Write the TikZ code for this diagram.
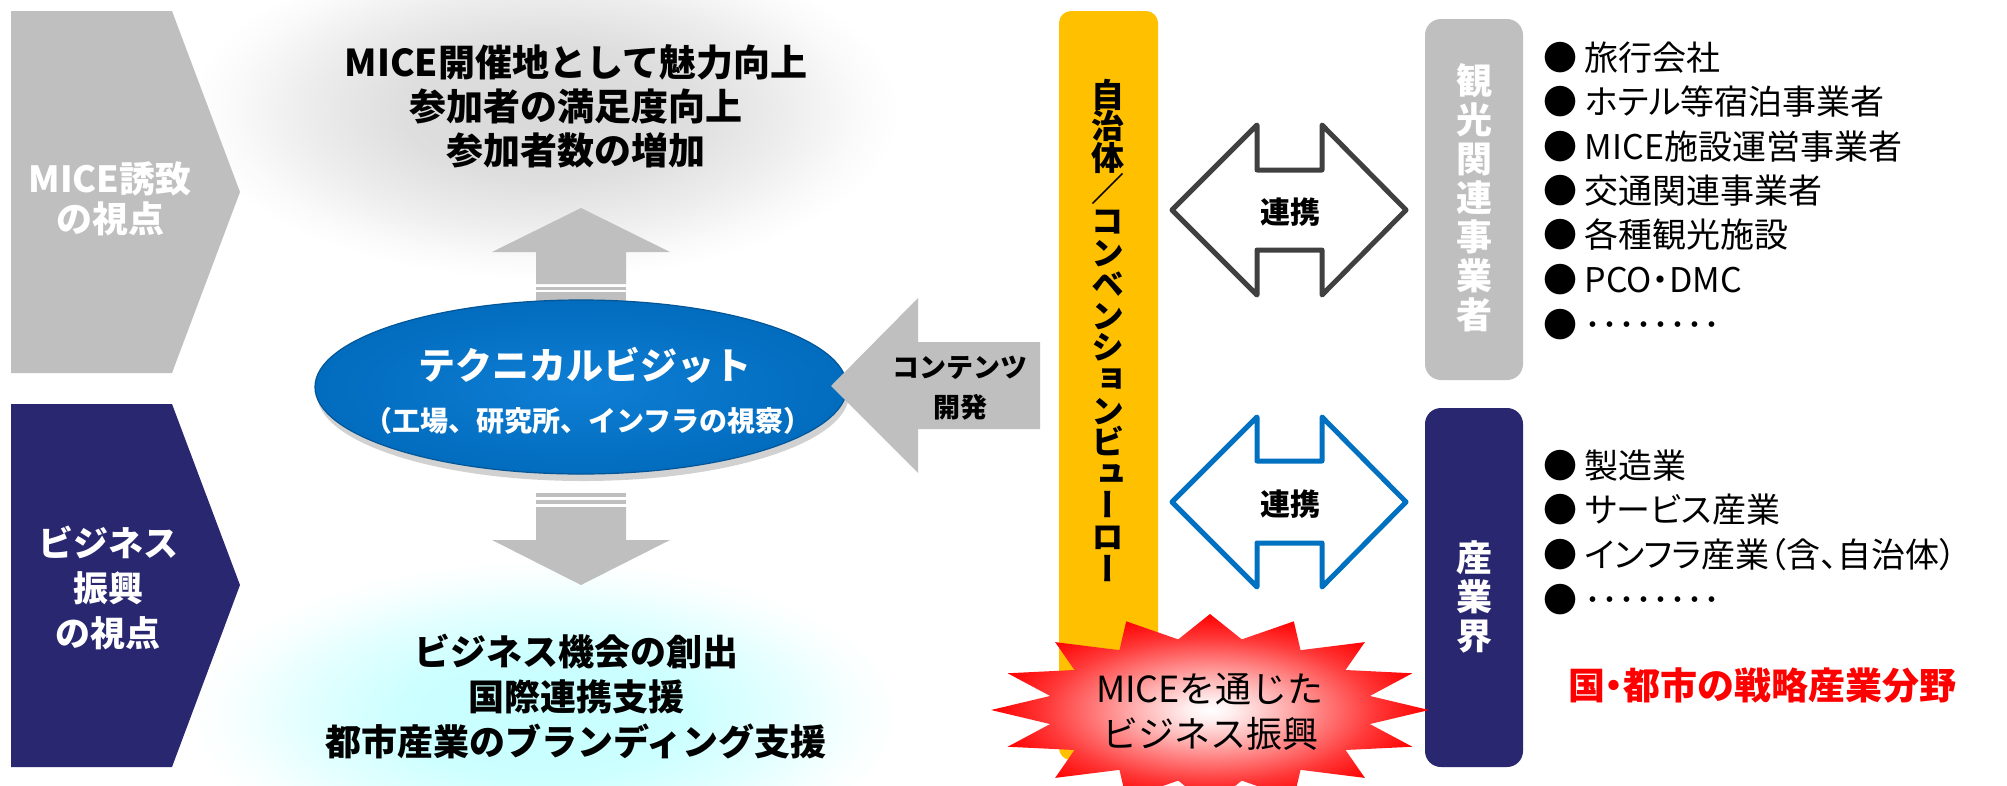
\documentclass[tikz,border=0pt]{standalone}
\usepackage{fontspec}
\setmainfont{Noto Sans CJK JP}
\newfontfamily\vjp{Noto Sans CJK JP}[RawFeature=+vert]
\newfontfamily\pjp{Noto Sans CJK JP}[RawFeature=+palt]
\definecolor{cgray}{RGB}{191,191,191}
\definecolor{cnavy}{RGB}{41,39,112}
\definecolor{cyellow}{RGB}{255,192,0}
\definecolor{cblue}{RGB}{0,112,192}
\definecolor{cdark}{RGB}{64,64,64}
\definecolor{ellin}{RGB}{14,126,212}
\definecolor{ellout}{RGB}{2,108,190}
\pgfdeclareradialshading{burst}{\pgfpoint{0bp}{0bp}}{color(0bp)=(white); color(2.5bp)=(red!6); color(8.75bp)=(red!32); color(13.75bp)=(red!55); color(18.75bp)=(red!78); color(25bp)=(red); color(50bp)=(red)}
\pgfdeclareradialshading{glowgray}{\pgfpoint{0bp}{0bp}}{color(0bp)=(black!15); color(10bp)=(black!13); color(17bp)=(black!7); color(22bp)=(black!2); color(25bp)=(white); color(50bp)=(white)}
\pgfdeclareradialshading{glowcyan}{\pgfpoint{0bp}{0bp}}{color(0bp)=(cyan!22); color(10bp)=(cyan!20); color(17bp)=(cyan!11); color(22bp)=(cyan!3); color(25bp)=(white); color(50bp)=(white)}
\newcommand\fsz[2]{\fontsize{#1}{#2}\selectfont}
\tikzset{
  txt/.style={inner sep=0pt, align=center},
  chevtext/.style={txt, text=white, font=\bfseries\fsz{36}{40}},
  bigtext/.style={txt, text=black, font=\bfseries\fsz{37}{44}},
  lowtext/.style={txt, text=black, font=\bfseries\fsz{36}{45}},
  listitem/.style={inner sep=0pt, anchor=west, text=black, font=\pjp\fsz{34}{34}},
  boxtext/.style={txt, text=white, font=\bfseries\fsz{36}{39}},
  linktext/.style={txt, text=black, font=\bfseries\fsz{30}{30}},
  dblarrow/.style={line width=5pt, line join=round, fill=white},
}
\begin{document}
\begin{tikzpicture}[x=1pt,y=-1pt]
\useasboundingbox (0,0) rectangle (2007,785);
\clip (0,0) rectangle (2007,785);
\fill[white] (0,0) rectangle (2007,785);

% glows
\shade[shading=glowgray] (190,-60) rectangle (900,280);
\shade[shading=glowcyan] (190,560) rectangle (900,870);

% chevrons
\fill[cgray] (11,11) -- (172,11) -- (240,192) -- (172,373) -- (11,373) -- cycle;
\node[chevtext] (c1) at (110,199) {MICE誘致\\の視点};
\fill[cnavy] (11,404) -- (172,404) -- (240,585) -- (172,767) -- (11,767) -- cycle;
\node[chevtext, font=\bfseries\fsz{35}{45}] (c2) at (108,588) {ビジネス\\振興\\の視点};

% top text
\node[bigtext] (top) at (576,106) {MICE開催地として魅力向上\\参加者の満足度向上\\参加者数の増加};

% up arrow
\fill[cgray] (581,208) -- (670,252) -- (626,252) -- (626,284) -- (536,284) -- (536,252) -- (492,252) -- cycle;
\fill[cgray] (536,287) rectangle (626,290);
\fill[cgray] (536,292) rectangle (626,302);

% down arrow
\fill[cgray] (536,493) rectangle (626,497);
\fill[cgray] (536,500) rectangle (626,504);
\fill[cgray] (536,507) -- (626,507) -- (626,540) -- (670,540) -- (581,585) -- (492,540) -- (536,540) -- cycle;

% bottom text
\node[lowtext] (low) at (576,697) {ビジネス機会の創出\\国際連携支援\\都市産業のブランディング支援};

% ellipse
\fill[black, opacity=0.18] (583,394) ellipse [x radius=266pt, y radius=87pt];
\shade[inner color=ellin, outer color=ellout] (581,387) ellipse [x radius=266pt, y radius=87pt];
\draw[ellout!80!black, line width=1.2pt] (581,387) ellipse [x radius=266pt, y radius=87pt];
\node[txt, text=white, font=\bfseries\fsz{37}{37}] (e1) at (585,365) {テクニカルビジット};
\node[txt, text=white, font=\bfseries\fsz{28}{28}] (e2) at (588,421) {（工場、研究所、インフラの視察）};

% left arrow
\fill[cgray] (831,386) -- (918,298) -- (918,342) -- (1040,342) -- (1040,429) -- (918,429) -- (918,473) -- cycle;
\node[txt, font=\bfseries\fsz{27}{40}] (cd) at (960,388) {コンテンツ\\開発};

% yellow bar
\fill[cyellow, rounded corners=12pt] (1059,11) rectangle (1158,760);
\node[txt, font=\vjp\bfseries\fsz{33}{31.6}] (vb) at (1108,330) {自\\治\\体\\／\\コ\\ン\\ベ\\ン\\シ\\ョ\\ン\\ビ\\ュ\\ー\\ロ\\ー};

% double arrows
\draw[dblarrow, draw=cdark, shift={(1289,210)}] (-117,0) -- (-32,-85) -- (-32,-40) -- (33,-40) -- (33,-85) -- (117,0) -- (33,85) -- (33,40) -- (-32,40) -- (-32,85) -- cycle;
\node[linktext] (k1) at (1290,212) {連携};
\draw[dblarrow, draw=cblue, shift={(1289,502)}] (-117,0) -- (-32,-85) -- (-32,-41) -- (33,-41) -- (33,-85) -- (117,0) -- (33,85) -- (33,41) -- (-32,41) -- (-32,85) -- cycle;
\node[linktext] (k2) at (1290,504) {連携};

% boxes
\fill[cgray, rounded corners=16pt] (1425,19) rectangle (1523,380);
\node[boxtext] (b1) at (1474,198) {観\\光\\関\\連\\事\\業\\者};
\fill[cnavy, rounded corners=16pt] (1425,408) rectangle (1523,767);
\node[boxtext] (b2) at (1474,597) {産\\業\\界};

% starburst
\shade[shading=burst] plot[samples at={0,...,31}, variable=\k] ({1210+(iseven(\k) ? 219 : 163)*cos(\k*11.25)}, {710-(iseven(\k) ? 96 : 72)*sin(\k*11.25)}) -- cycle;
\node[txt, font=\fsz{36}{45}] (st) at (1210,712) {MICEを通じた\\ビジネス振興};

% list 1
\node[listitem] (l1) at (1543,58) {● 旅行会社};
\node[listitem] (l2) at (1543,102) {● ホテル等宿泊事業者};
\node[listitem] (l3) at (1543,147) {● MICE施設運営事業者};
\node[listitem] (l4) at (1543,191) {● 交通関連事業者};
\node[listitem] (l5) at (1543,235) {● 各種観光施設};
\node[listitem] (l6) at (1543,280) {● PCO・DMC};
\node[listitem] (l7) at (1543,325) {● ････････};

% list 2
\node[listitem] (m1) at (1543,466) {● 製造業};
\node[listitem] (m2) at (1543,510) {● サービス産業};
\node[listitem] (m3) at (1543,555) {● インフラ産業（含、自治体）};
\node[listitem] (m4) at (1543,600) {● ････････};

% red text
\node[txt, text=red, font=\pjp\bfseries\fsz{37}{37}] (red) at (1762,686) {国・都市の戦略産業分野};
\end{tikzpicture}
\end{document}
